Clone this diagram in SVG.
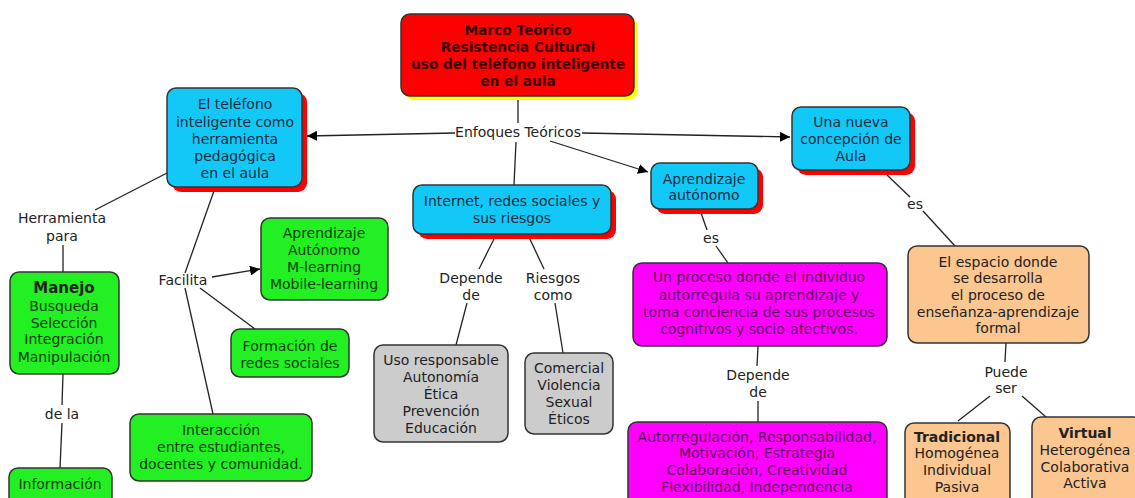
<svg xmlns="http://www.w3.org/2000/svg" width="1135" height="498" viewBox="0 0 1135 498">
<defs>
<marker id="arr" viewBox="0 0 10 10" refX="10" refY="5" markerWidth="10" markerHeight="10" markerUnits="userSpaceOnUse" orient="auto">
<path d="M0,0 L10,5 L0,10 z" fill="#000"/>
</marker>
<style>
text{font-family:"DejaVu Sans",Verdana,sans-serif;font-size:14px;text-anchor:middle;dominant-baseline:central}
.box{stroke:#333;stroke-width:1.5}
.red{fill:#ff0000}
.blue{fill:#12c8f6}
.green{fill:#22f022}
.gray{fill:#cccccc}
.mag{fill:#ff00ff}
.org{fill:#fbc690}
.shr{fill:#ff0000}
.shy{fill:#ffff00}
.tb{fill:#1e2a40}
.tg{fill:#0d3d0d}
.tm{fill:#5a0a5a}
.tk{fill:#222}
.tr{fill:#3a0000;font-weight:bold;font-size:13.7px}
.b{font-weight:bold}
.lbl{fill:#222}
.conn line,.conn path{stroke:#222;stroke-width:1.3;fill:none}
</style>
</defs>
<rect width="1135" height="498" fill="#fff"/>

<g class="conn">
<line x1="518" y1="96" x2="518" y2="123"/>
<line x1="455" y1="133" x2="307" y2="136" marker-end="url(#arr)"/>
<line x1="582" y1="133" x2="790" y2="137" marker-end="url(#arr)"/>
<line x1="550" y1="141" x2="648" y2="172" marker-end="url(#arr)"/>
<line x1="516" y1="142" x2="514" y2="185"/>
<line x1="496" y1="235" x2="479" y2="269"/>
<line x1="467" y1="303" x2="456" y2="345"/>
<line x1="528" y1="235" x2="544" y2="269"/>
<line x1="555" y1="303" x2="563" y2="353"/>
<line x1="700" y1="210" x2="707" y2="230"/>
<line x1="716" y1="246" x2="728" y2="263"/>
<line x1="758" y1="346" x2="757" y2="366"/>
<line x1="758" y1="401" x2="758" y2="422"/>
<line x1="887" y1="175" x2="910" y2="197"/>
<line x1="923" y1="211" x2="955" y2="246"/>
<line x1="1006" y1="343" x2="1005" y2="362"/>
<line x1="990" y1="396" x2="958" y2="421"/>
<line x1="1022" y1="396" x2="1046" y2="417"/>
<line x1="167" y1="173" x2="95" y2="210"/>
<line x1="63" y1="245" x2="63" y2="272"/>
<line x1="63" y1="374" x2="62" y2="405"/>
<line x1="62" y1="423" x2="60" y2="468"/>
<line x1="215" y1="188" x2="185" y2="273"/>
<line x1="185" y1="288" x2="213" y2="414"/>
<line x1="212" y1="277" x2="260" y2="269" marker-end="url(#arr)"/>
<line x1="200" y1="288" x2="255" y2="329"/>
</g>

<g id="labels">
<text x="518" y="132" class="lbl">Enfoques Teóricos</text>
<text x="62" y="218" class="lbl">Herramienta</text>
<text x="62" y="236" class="lbl">para</text>
<text x="62" y="414" class="lbl">de la</text>
<text x="183" y="280" class="lbl">Facilita</text>
<text x="471" y="278" class="lbl">Depende</text>
<text x="471" y="295" class="lbl">de</text>
<text x="553" y="278" class="lbl">Riesgos</text>
<text x="553" y="295" class="lbl">como</text>
<text x="711" y="238" class="lbl">es</text>
<text x="758" y="375" class="lbl">Depende</text>
<text x="758" y="392" class="lbl">de</text>
<text x="915" y="204" class="lbl">es</text>
<text x="1006" y="372" class="lbl">Puede</text>
<text x="1006" y="388" class="lbl">ser</text>
</g>

<g id="n-marco">
<rect x="405" y="18" width="233" height="82" rx="9" class="shy"/>
<rect x="401" y="14" width="233" height="82" rx="9" class="box red"/>
<text x="518" y="30" class="tr">Marco Teórico</text>
<text x="518" y="47" class="tr">Resistencia Cultural</text>
<text x="518" y="64" class="tr">uso del teléfono inteligente</text>
<text x="518" y="81" class="tr">en el aula</text>
</g>

<g id="n-telefono">
<rect x="172" y="93" width="135" height="99" rx="9" class="shr"/>
<rect x="167" y="88" width="135" height="99" rx="9" class="box blue"/>
<text x="235" y="104" class="tb">El teléfono</text>
<text x="235" y="122" class="tb">inteligente como</text>
<text x="235" y="139" class="tb">herramienta</text>
<text x="235" y="156" class="tb">pedagógica</text>
<text x="235" y="173" class="tb">en el aula</text>
</g>

<g id="n-aula">
<rect x="797" y="112" width="118" height="63" rx="9" class="shr"/>
<rect x="792" y="107" width="118" height="63" rx="9" class="box blue"/>
<text x="851" y="122" class="tb">Una nueva</text>
<text x="851" y="139" class="tb">concepción de</text>
<text x="851" y="156" class="tb">Aula</text>
</g>

<g id="n-autonomo">
<rect x="656" y="168" width="107" height="46" rx="9" class="shr"/>
<rect x="651" y="163" width="107" height="46" rx="9" class="box blue"/>
<text x="704" y="179" class="tb">Aprendizaje</text>
<text x="704" y="195" class="tb">autónomo</text>
</g>

<g id="n-internet">
<rect x="418" y="190" width="198" height="49" rx="9" class="shr"/>
<rect x="413" y="185" width="198" height="49" rx="9" class="box blue"/>
<text x="512" y="201" class="tb">Internet, redes sociales y</text>
<text x="512" y="218" class="tb">sus riesgos</text>
</g>

<g id="n-uso">
<rect x="374" y="345" width="134" height="97" rx="9" class="box gray"/>
<text x="441" y="360" class="tk">Uso responsable</text>
<text x="441" y="377" class="tk">Autonomía</text>
<text x="441" y="394" class="tk">Ética</text>
<text x="441" y="411" class="tk">Prevención</text>
<text x="441" y="428" class="tk">Educación</text>
</g>

<g id="n-riesgos">
<rect x="525" y="353" width="88" height="81" rx="9" class="box gray"/>
<text x="569" y="368" class="tk">Comercial</text>
<text x="569" y="385" class="tk">Violencia</text>
<text x="569" y="402" class="tk">Sexual</text>
<text x="569" y="419" class="tk">Éticos</text>
</g>

<g id="n-proceso">
<rect x="633" y="263" width="254" height="83" rx="9" class="box mag"/>
<text x="759" y="277" class="tm">Un proceso donde el individuo</text>
<text x="759" y="295" class="tm">autorregula su aprendizaje y</text>
<text x="759" y="312" class="tm">toma conciencia de sus procesos</text>
<text x="759" y="329" class="tm">cognitivos y socio-afectivos.</text>
</g>

<g id="n-autorreg">
<rect x="628" y="422" width="259" height="86" rx="9" class="box mag"/>
<text x="757" y="437" class="tm">Autorregulación, Responsabilidad,</text>
<text x="757" y="453" class="tm">Motivación, Estrategia</text>
<text x="757" y="470" class="tm">Colaboración, Creatividad</text>
<text x="757" y="487" class="tm">Flexibilidad, Independencia</text>
</g>

<g id="n-espacio">
<rect x="908" y="246" width="181" height="97" rx="9" class="box org"/>
<text x="998" y="262" class="tk">El espacio donde</text>
<text x="998" y="278" class="tk">se desarrolla</text>
<text x="998" y="295" class="tk">el proceso de</text>
<text x="998" y="312" class="tk">enseñanza-aprendizaje</text>
<text x="998" y="328" class="tk">formal</text>
</g>

<g id="n-tradicional">
<rect x="905" y="423" width="105" height="85" rx="9" class="box org"/>
<text x="957" y="437" class="tk b">Tradicional</text>
<text x="957" y="453" class="tk">Homogénea</text>
<text x="957" y="470" class="tk">Individual</text>
<text x="957" y="487" class="tk">Pasiva</text>
</g>

<g id="n-virtual">
<rect x="1032" y="417" width="110" height="91" rx="9" class="box org"/>
<text x="1085" y="433" class="tk b">Virtual</text>
<text x="1085" y="450" class="tk">Heterogénea</text>
<text x="1085" y="467" class="tk">Colaborativa</text>
<text x="1085" y="483" class="tk">Activa</text>
</g>

<g id="n-manejo">
<rect x="10" y="272" width="109" height="102" rx="9" class="box green"/>
<text x="64" y="288" class="tk b" style="font-size:15px">Manejo</text>
<text x="64" y="306" class="tg">Busqueda</text>
<text x="64" y="323" class="tg">Selección</text>
<text x="64" y="339" class="tg">Integración</text>
<text x="64" y="357" class="tg">Manipulación</text>
</g>

<g id="n-informacion">
<rect x="9" y="468" width="103" height="40" rx="9" class="box green"/>
<text x="60" y="484" class="tg">Información</text>
</g>

<g id="n-mlearning">
<rect x="261" y="218" width="127" height="82" rx="9" class="box green"/>
<text x="324" y="233" class="tg">Aprendizaje</text>
<text x="324" y="250" class="tg">Autónomo</text>
<text x="324" y="267" class="tg">M-learning</text>
<text x="324" y="284" class="tg">Mobile-learning</text>
</g>

<g id="n-formacion">
<rect x="231" y="329" width="118" height="48" rx="9" class="box green"/>
<text x="290" y="346" class="tg">Formación de</text>
<text x="290" y="363" class="tg">redes sociales</text>
</g>

<g id="n-interaccion">
<rect x="130" y="414" width="182" height="67" rx="9" class="box green"/>
<text x="221" y="430" class="tg">Interacción</text>
<text x="221" y="447" class="tg">entre estudiantes,</text>
<text x="221" y="464" class="tg">docentes y comunidad.</text>
</g>
</svg>
